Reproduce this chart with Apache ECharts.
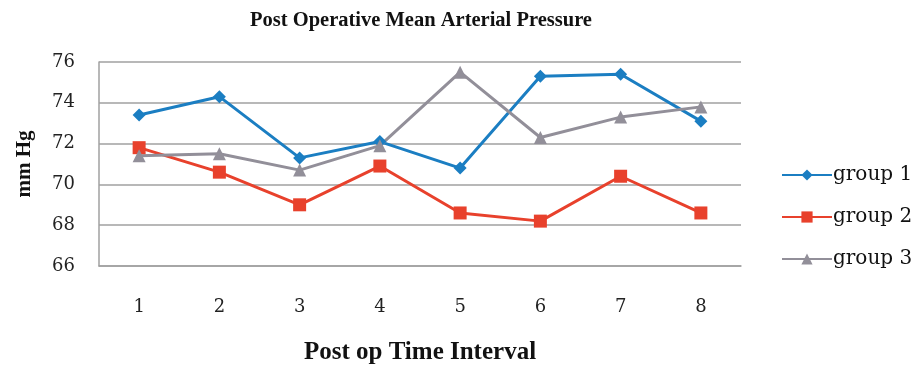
<!DOCTYPE html>
<html>
<head>
<meta charset="utf-8">
<script src="https://cdn.jsdelivr.net/npm/echarts@6/dist/echarts.min.js"></script>
<style>html,body{margin:0;padding:0;background:#fff}#c{width:915px;height:370px}</style>
</head>
<body>
<div id="c"></div>
<script>
const categories = ['1','2','3','4','5','6','7','8'];
const group1 = [73.4, 74.3, 71.3, 72.1, 70.8, 75.3, 75.4, 73.1];
const group2 = [71.8, 70.6, 69.0, 70.9, 68.6, 68.2, 70.4, 68.6];
const group3 = [71.4, 71.5, 70.7, 71.9, 75.5, 72.3, 73.3, 73.8];
const seriesNames = ['group 1', 'group 2', 'group 3'];
const yMin = 66, yMax = 76, yStep = 2;

const serif = 'Liberation Serif';
const serif2 = 'DejaVu Serif';
const chart = echarts.init(document.getElementById('c'), null, {renderer: 'canvas'});
const mk = (name, data, color, symbol, size) => ({
  name, type: 'line', data, symbol, symbolSize: size,
  lineStyle: {color, width: 3}, itemStyle: {color},
  emphasis: {disabled: true}, animation: false, z: 3
});
chart.setOption({
  animation: false,
  title: {
    text: 'Post Operative Mean Arterial Pressure',
    left: 416, top: 5, textAlign: 'center',
    textStyle: {fontFamily: serif, fontWeight: 'bold', fontSize: 20.5, color: '#111'}
  },
  grid: {left: 99, right: 174, top: 62, bottom: 103},
  legend: {
    orient: 'vertical', left: 776, top: 160, itemGap: 22,
    itemWidth: 50, itemHeight: 14,
    textStyle: {fontFamily: serif2, fontSize: 20, color: '#111', padding: [0,0,0,-4]},
    data: seriesNames
  },
  xAxis: {
    type: 'category', data: categories, boundaryGap: true,
    axisLine: {lineStyle: {color: '#a0a0a0', width: 1.5}},
    axisTick: {show: false},
    axisLabel: {margin: 32, fontFamily: serif2, fontSize: 18, color: '#222'},
    name: 'Post op Time Interval', nameLocation: 'middle', nameGap: 74,
    nameTextStyle: {fontFamily: serif, fontWeight: 'bold', fontSize: 25, color: '#111'}
  },
  yAxis: {
    type: 'value', min: yMin, max: yMax, interval: yStep,
    axisLine: {show: true, lineStyle: {color: '#a0a0a0', width: 1.5}},
    axisTick: {show: false},
    splitLine: {lineStyle: {color: '#a0a0a0', width: 1.5}},
    axisLabel: {margin: 24, fontFamily: serif2, fontSize: 18, color: '#222'},
    name: 'mm Hg', nameLocation: 'middle', nameGap: 64,
    nameTextStyle: {fontFamily: serif, fontWeight: 'bold', fontSize: 21, color: '#111'}
  },
  series: [
    mk(seriesNames[0], group1, '#1b7ec2', 'diamond', 13),
    mk(seriesNames[1], group2, '#e8412c', 'rect', 13),
    mk(seriesNames[2], group3, '#928f99', 'triangle', 13)
  ]
});
</script>
</body>
</html>
